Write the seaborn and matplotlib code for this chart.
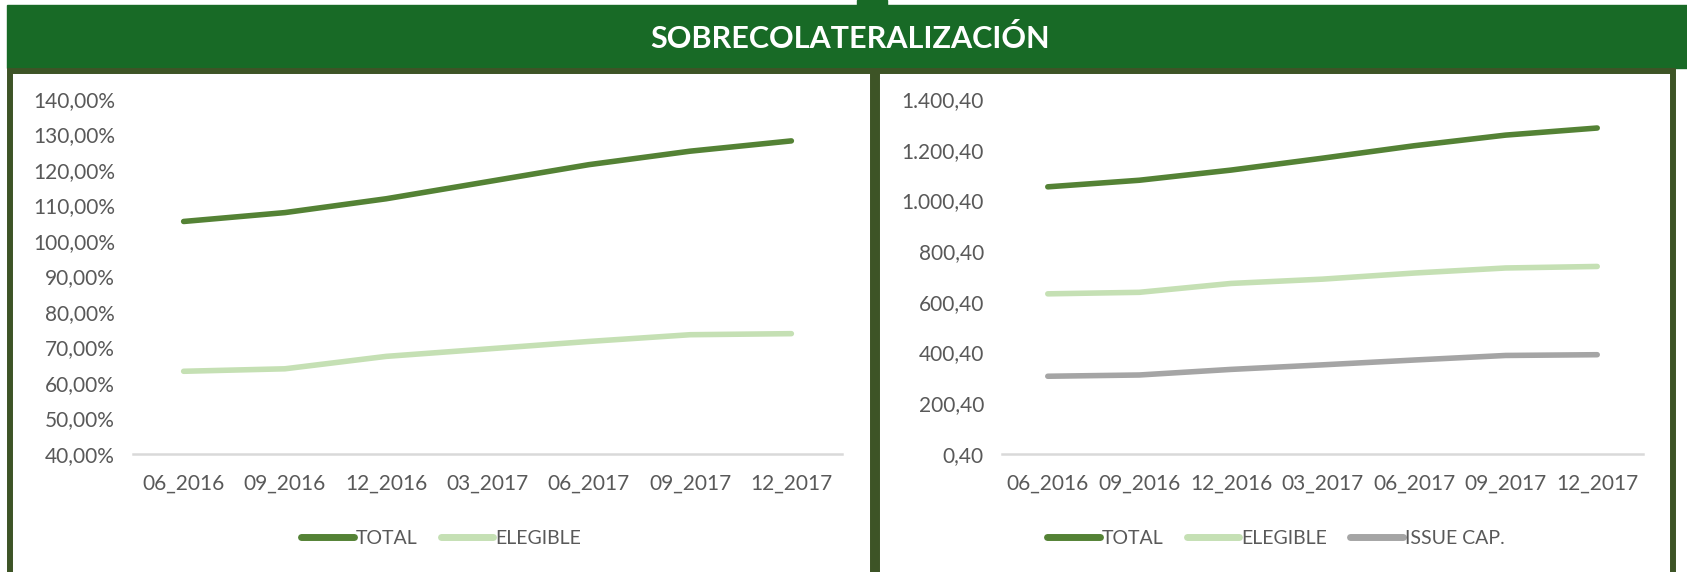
import pandas as pd
import seaborn as sns
import numpy as np
import matplotlib.pyplot as plt
from matplotlib.patches import Rectangle
from matplotlib.ticker import FuncFormatter, FixedLocator

# data
periods = ["06_2016", "09_2016", "12_2016", "03_2017", "06_2017", "09_2017", "12_2017"]
ratio_total = [105.5, 108.0, 111.9, 116.7, 121.5, 125.3, 128.2]
ratio_elegible = [63.3, 64.0, 67.5, 69.6, 71.7, 73.6, 73.9]
amount_total = [1054, 1080, 1120, 1167, 1216, 1258, 1286]
amount_elegible = [632, 638, 673, 690, 714, 734, 740]
amount_issue = [307, 312, 334, 352, 371, 389, 392]

colors = {"TOTAL": "#548235", "ELEGIBLE": "#C5E0B4", "ISSUE CAP.": "#A5A5A5"}
text_grey = "#595959"
axis_grey = "#D9D9D9"
header_green = "#186A26"
border_green = "#3D5426"

df_left = pd.DataFrame({
    "period": periods * 2,
    "value": ratio_total + ratio_elegible,
    "serie": ["TOTAL"] * 7 + ["ELEGIBLE"] * 7,
})
df_right = pd.DataFrame({
    "period": periods * 3,
    "value": amount_total + amount_elegible + amount_issue,
    "serie": ["TOTAL"] * 7 + ["ELEGIBLE"] * 7 + ["ISSUE CAP."] * 7,
})

sns.set_style("white")
plt.rcParams['font.family'] = ['Lato', 'DejaVu Sans']

W, H = 1687, 572
fig = plt.figure(figsize=(W / 100, H / 100), dpi=100)


def px(x0, y0, x1, y1):
    # pixel box (top-left origin) -> figure fraction [l, b, w, h]
    return [x0 / W, (H - y1) / H, (x1 - x0) / W, (y1 - y0) / H]


# header band and frames
fig.patches.append(Rectangle((7 / W, (H - 68) / H), (W - 7) / W, 63 / H,
                             transform=fig.transFigure, color=header_green, zorder=0))
fig.patches.append(Rectangle((857 / W, (H - 6) / H), 30 / W, 6 / H,
                             transform=fig.transFigure, color=header_green, zorder=0))
for x0, x1 in [(10, 873), (877, 1673)]:
    fig.patches.append(Rectangle((x0 / W, -0.05), (x1 - x0) / W, (H - 71) / H + 0.05,
                                 transform=fig.transFigure, fill=False,
                                 edgecolor=border_green, linewidth=4.3, zorder=1))
fig.text(850 / W, (H - 38) / H, "SOBRECOLATERALIZACIÓN", color="white",
         fontsize=22, fontweight="bold", ha="center", va="center")


def style_axis(ax, ylim, step, fmt):
    ax.set_xlim(-0.5, 6.5)
    ax.set_ylim(*ylim)
    ax.yaxis.set_major_locator(FixedLocator(np.arange(ylim[0], ylim[1] + step / 2, step)))
    ax.yaxis.set_major_formatter(FuncFormatter(fmt))
    ax.xaxis.set_minor_locator(FixedLocator(np.arange(-0.5, 7, 1)))
    ax.tick_params(axis="x", which="major", length=0, pad=14, labelsize=15, labelcolor=text_grey)
    ax.tick_params(axis="x", which="minor", length=7, width=1.5, color=axis_grey)
    ax.tick_params(axis="y", length=0, pad=13, labelsize=15, labelcolor=text_grey)
    for s in ["top", "right", "left"]:
        ax.spines[s].set_visible(False)
    ax.spines["bottom"].set_color(axis_grey)
    ax.spines["bottom"].set_linewidth(1.8)
    ax.set_xlabel("")
    ax.set_ylabel("")
    ax.patch.set_alpha(0)


def pct(v, pos):
    return f"{v:.2f}".replace(".", ",") + "%"


def amount(v, pos):
    s = f"{v:,.2f}"
    return s.replace(",", "X").replace(".", ",").replace("X", ".")


ax1 = fig.add_axes(px(133, 99, 842, 454))
sns.lineplot(data=df_left, x="period", y="value", hue="serie", palette=colors,
             sort=False, linewidth=4, solid_capstyle="round", ax=ax1)
style_axis(ax1, (40, 140), 10, pct)

ax2 = fig.add_axes(px(1002, 99, 1643, 454))
sns.lineplot(data=df_right, x="period", y="value", hue="serie", palette=colors,
             sort=False, linewidth=4, solid_capstyle="round", ax=ax2)
style_axis(ax2, (0.4, 1400.4), 200, amount)

for ax, cx in [(ax1, 441), (ax2, 1276)]:
    handles, labels = ax.get_legend_handles_labels()
    ax.get_legend().remove()
    leg = fig.legend(handles, labels, loc="center", bbox_to_anchor=(cx / W, (H - 538) / H),
                     ncol=len(labels), frameon=False, fontsize=14, handlelength=2.7,
                     handletextpad=0.1, columnspacing=1.2, labelcolor=text_grey)
    for line in leg.get_lines():
        line.set_linewidth(5)
        line.set_solid_capstyle("round")

fig.savefig("out.png", dpi=100)
